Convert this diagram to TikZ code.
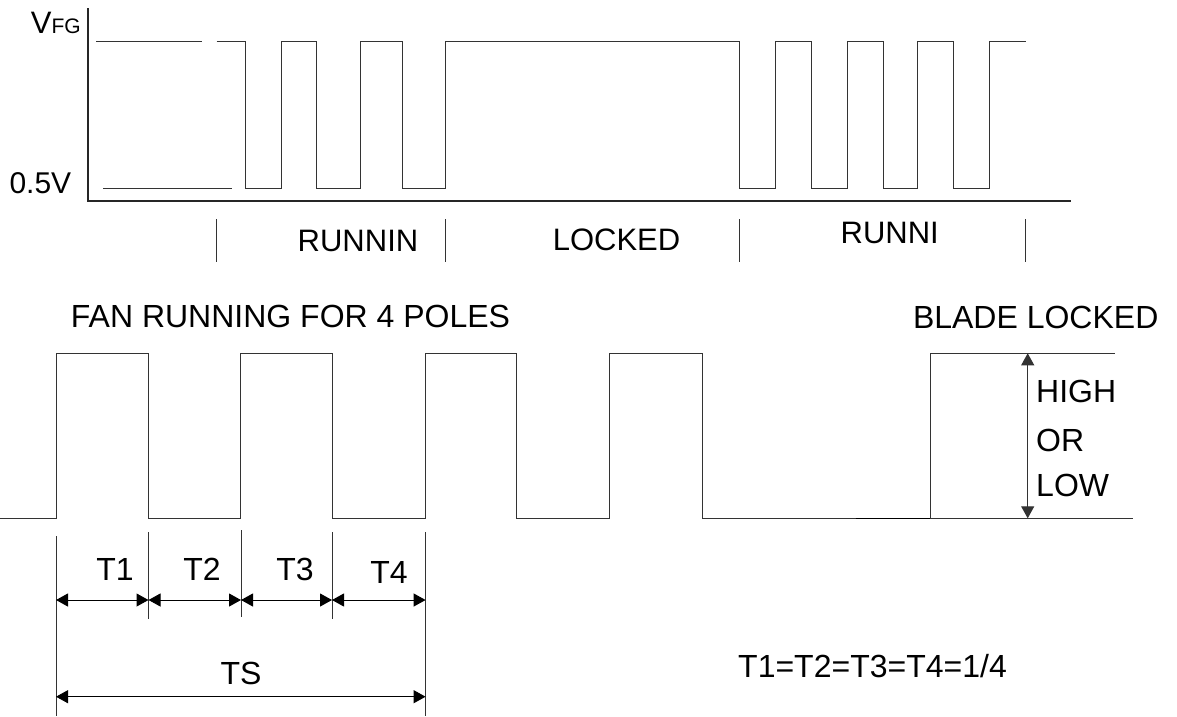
\documentclass[tikz,border=0pt]{standalone}
\usepackage{fontspec}
\setmainfont{Liberation Sans}
\usetikzlibrary{arrows.meta}
\tikzset{
  wave/.style={line width=1pt, draw=black!80, line join=miter},
  axisline/.style={line width=1.2pt, draw=black!85},
  divider/.style={line width=1pt, draw=black!80},
  extline/.style={line width=0.9pt, draw=black!80},
  dimarrow/.style={line width=1pt, draw=black, {Triangle[length=12pt,width=13pt]}-{Triangle[length=12pt,width=13pt]}},
  lbl/.style={inner sep=0pt, font=\fontsize{32}{32}\selectfont, text=black},
}
\begin{document}
\begin{tikzpicture}[x=1pt,y=-1pt]
\useasboundingbox (0,0) rectangle (1177,716);
% ---------------- top chart ----------------
\draw[axisline] (88,8) -- (88,201) -- (1071,201);
\node[inner sep=0pt, anchor=base east] (vfg) at (81,33.3) {\fontsize{31}{31}\selectfont V\fontsize{21}{21}\selectfont FG};
\node[lbl, anchor=base west, font=\fontsize{30}{30}\selectfont] (half) at (9.3,193) {0.5V};
% waveform
\draw[wave] (96,41) -- (201.7,41);
\draw[wave] (103,188) -- (231.7,188);
\draw[wave] (216.7,41) -- (245,41) -- (245,188) -- (281,188) -- (281,41) -- (316.7,41)
  -- (316.7,188) -- (360.7,188) -- (360.7,41) -- (402.3,41) -- (402.3,188) -- (445.7,188)
  -- (445.7,41) -- (739,41) -- (739,188) -- (775,188) -- (775,41) -- (811.6,41)
  -- (811.6,188) -- (847.6,188) -- (847.6,41) -- (883,41) -- (883,188) -- (917.6,188)
  -- (917.6,41) -- (953.6,41) -- (953.6,188) -- (989.5,188) -- (989.5,41) -- (1025.7,41);
% dividers
\foreach \x in {216.7,445.7,739,1025.7}
  \draw[divider] (\x,219) -- (\x,262);
\node[lbl, anchor=base, font=\fontsize{31}{31}\selectfont] (run1) at (358,251.7) {RUNNIN};
\node[lbl, anchor=base, font=\fontsize{31}{31}\selectfont] (lock) at (616.5,250) {LOCKED};
\node[lbl, anchor=base, font=\fontsize{31}{31}\selectfont] (run2) at (889.7,243.3) {RUNNI};
% ---------------- bottom chart ----------------
\node[lbl, anchor=base west] (fan) at (70.7,327.3) {FAN RUNNING FOR 4 POLES};
\node[lbl, anchor=base west] (blade) at (912.8,328) {BLADE LOCKED};
\draw[wave] (0,518.3) -- (56,518.3) -- (56,353.3) -- (148.5,353.3) -- (148.5,518.3)
  -- (240,518.3) -- (240,353.3) -- (332,353.3) -- (332,518.3) -- (425.6,518.3)
  -- (425.6,353.3) -- (516,353.3) -- (516,518.3) -- (609,518.3) -- (609,353.3)
  -- (702,353.3) -- (702,518.3) -- (930.3,518.3) -- (930.3,353.3) -- (1114.5,353.3);
\draw[wave, line width=1.3pt, draw=black] (855.7,518.3) -- (930.3,518.3);
\draw[wave] (930.3,518.3) -- (1132.6,518.3);
% high or low arrow
\coordinate (hl1) at (1027.7,353.3);
\coordinate (hl2) at (1027.7,518.3);
\draw[dimarrow, draw=black!80] (hl1) -- (hl2);
\node[lbl, anchor=base west] (high) at (1036,402.7) {HIGH};
\node[lbl, anchor=base west] (or) at (1036,451.7) {OR};
\node[lbl, anchor=base west] (low) at (1036,496.7) {LOW};
% extension lines
\draw[extline] (56,536) -- (56,716);
\draw[extline] (148.5,532) -- (148.5,618.7);
\draw[extline] (241,530) -- (241,616.7);
\draw[extline] (332,532) -- (332,619);
\draw[extline] (425.6,532) -- (425.6,716);
% dimension arrows
\coordinate (a0) at (56,600);
\coordinate (a1) at (148.5,600);
\coordinate (a2) at (241,600);
\coordinate (a3) at (332,600);
\coordinate (a4) at (425.6,600);
\draw[dimarrow] (a0) -- (a1);
\draw[dimarrow] (a1) -- (a2);
\draw[dimarrow] (a2) -- (a3);
\draw[dimarrow] (a3) -- (a4);
\coordinate (s0) at (56,696.7);
\coordinate (s1) at (425.6,696.7);
\draw[dimarrow] (s0) -- (s1);
\node[lbl, anchor=base] (t1) at (115,580.7) {T1};
\node[lbl, anchor=base] (t2) at (202,580.7) {T2};
\node[lbl, anchor=base] (t3) at (295,580.5) {T3};
\node[lbl, anchor=base] (t4) at (389,583.3) {T4};
\node[lbl, anchor=base] (ts) at (241,684) {TS};
\node[lbl, anchor=base west] (eq) at (738,677) {T1=T2=T3=T4=1/4};
\end{tikzpicture}
\end{document}
